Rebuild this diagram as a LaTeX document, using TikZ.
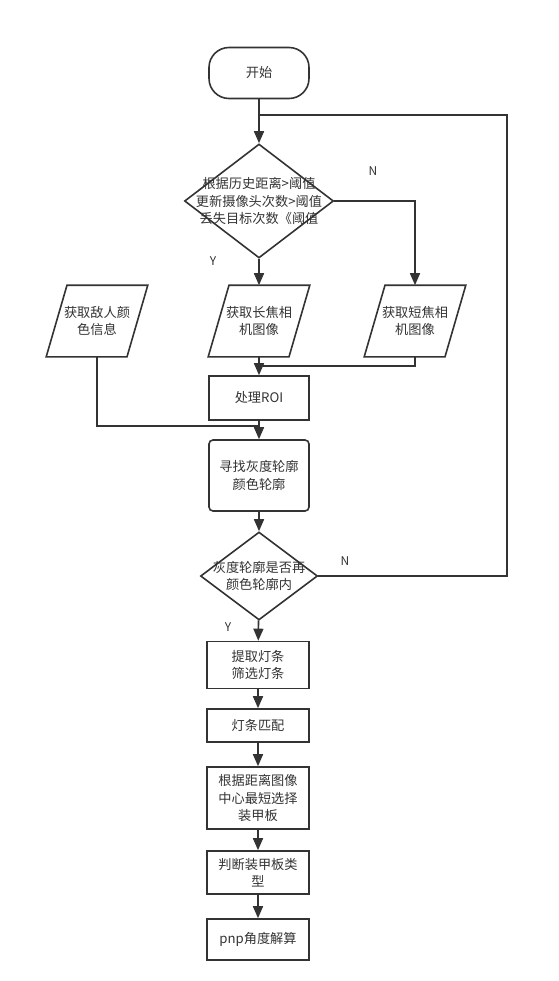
\documentclass[tikz,border=0pt]{standalone}
\usepackage{fontspec}
\newfontfamily\cjk{Noto Sans CJK SC}
\usetikzlibrary{arrows.meta, shapes.geometric}
\definecolor{ink}{HTML}{333333}

\begin{document}
\begin{tikzpicture}[x=1pt, y=-1pt, line width=1.6pt, draw=ink, text=ink,
    font=\cjk\fontsize{13.2}{17.5}\selectfont, every node/.style={align=center},
    start node/.style={rectangle, draw, rounded corners=20pt, minimum width=100pt, minimum height=51pt},
    box node/.style={rectangle, draw, minimum width=102pt, inner sep=2pt},
    dec node/.style={diamond, draw, inner sep=0pt},
    io node/.style={rectangle, minimum width=100pt, minimum height=70pt, inner sep=0pt},
    arr/.style={-{Triangle[length=12pt, width=10pt]}},
    yn node/.style={font=\cjk\fontsize{12}{14}\selectfont}]
\useasboundingbox (0,0) rectangle (558,981);

\node[start node] (start) at (259,73) {开始};
\node[dec node, minimum width=149pt, minimum height=114pt,
    label={[align=center]center:根据历史距离>阈值\\更新摄像头次数>阈值\\丢失目标次数《阈值}] (check) at (259,201) {};
\node[io node] (enemy) at (97,321) {获取敌人颜\\色信息};
\node[io node] (long) at (259,321) {获取长焦相\\机图像};
\node[io node] (short) at (415,321) {获取短焦相\\机图像};
\node[box node, minimum width=100pt, minimum height=44pt] (roi) at (259,398) {处理ROI};
\node[box node, rounded corners=4pt, minimum width=100pt, minimum height=71pt] (find) at (259,475.5) {寻找灰度轮廓\\颜色轮廓};
\node[dec node, minimum width=117pt, minimum height=88pt,
    label={[align=center]center:灰度轮廓是否再\\颜色轮廓内}] (inside) at (259,576) {};
\node[box node, minimum height=47pt] (extract) at (258,665) {提取灯条\\筛选灯条};
\node[box node, minimum height=33pt] (match) at (258,725.5) {灯条匹配};
\node[box node, minimum height=62pt] (select) at (258,798) {根据距离图像\\中心最短选择\\装甲板};
\node[box node, minimum height=43pt] (type) at (258,872.5) {判断装甲板类\\型};
\node[box node, minimum height=41pt] (pnp) at (258,939.5) {pnp角度解算};

% parallelogram outlines
\foreach \n in {enemy, long, short}
    \draw ([xshift=-30pt]\n.north) -- (\n.north east) -- ([xshift=30pt]\n.south) -- (\n.south west) -- cycle;

% yes / no labels
\node[yn node] (n check) at (373,171) {N};
\node[yn node] (y check) at (213,261) {Y};
\node[yn node] (n inside) at (345,561) {N};
\node[yn node] (y inside) at (228,627) {Y};

% join points
\coordinate (loop top) at (507,115);
\coordinate (join roi) at (259,366);
\coordinate (join find) at (259,426);

\draw[arr] (start) -- (check);
\draw (inside) -| (loop top) -- (start |- loop top);
\draw[arr] (check) -| (short);
\draw[arr] (check) -- (long);
\draw[arr] (long) -- (roi);
\draw (short) |- (join roi);
\draw (enemy) |- (join find);
\draw[arr] (roi) -- (find);
\draw[arr] (find) -- (inside);
\draw[arr] (inside) -- (extract);
\foreach \a/\b in {extract/match, match/select, select/type, type/pnp}
    \draw[arr] (\a) -- (\b);
\end{tikzpicture}
\end{document}
